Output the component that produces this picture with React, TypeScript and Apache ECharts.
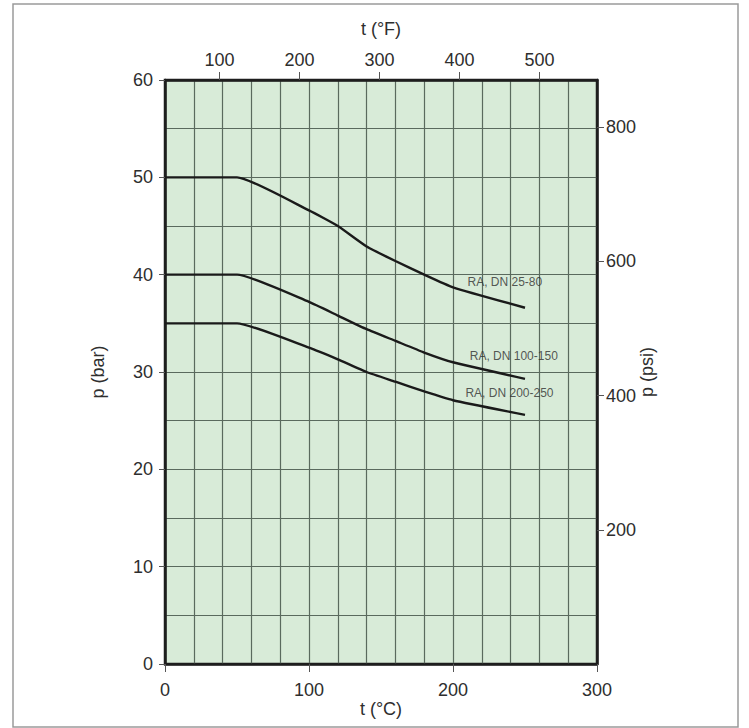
import React, { useEffect, useRef } from "react";
import * as echarts from "echarts";

// Temperature (°C) sample points and pressure (bar) for each rating curve
const tempC = [0, 50, 100, 120, 140, 160, 180, 200, 250];
const dn25_80 = [50, 50, 46.6, 45.0, 42.9, 41.4, 40.0, 38.7, 36.6];
const dn100_150 = [40, 40, 37.2, 35.8, 34.4, 33.2, 32.0, 31.0, 29.3];
const dn200_250 = [35, 35, 32.5, 31.3, 30.0, 29.0, 28.0, 27.1, 25.6];

const seriesNames = ["RA, DN 25-80", "RA, DN 100-150", "RA, DN 200-250"];
const labelTempC = [209.7, 211.3, 208.3];
const labelBar = [39.2, 31.6, 27.8];

// Axis ticks
const cTicks = [0, 100, 200, 300];
const barTicks = [0, 10, 20, 30, 40, 50, 60];
const fTicks = [100, 200, 300, 400, 500];
const psiTicks = [200, 400, 600, 800];
const cGridStep = 20;
const barGridStep = 5;

const C_MIN = 0;
const C_MAX = 300;
const BAR_MIN = 0;
const BAR_MAX = 60;
const PSI_PER_BAR = 14.5038;

const FONT = "Liberation Sans, Arial, sans-serif";
const TEXT = "#2e2e2e";
const AXIS = "#1e1e1e";
const GRIDLINE = "#5a6a5e";

export default function App() {
  const ref = useRef<HTMLDivElement>(null);

  useEffect(() => {
    if (!ref.current) return;
    const chart = echarts.init(ref.current, undefined, { renderer: "svg" });

    const curves = [dn25_80, dn100_150, dn200_250];
    const lineSeries = curves.map((vals, i) => ({
      type: "line",
      name: seriesNames[i],
      xAxisIndex: 0,
      yAxisIndex: 0,
      data: tempC.map((t, j) => [t, vals[j]]),
      showSymbol: false,
      symbol: "none",
      smooth: 0.15,
      lineStyle: { color: "#1a1a1a", width: 2.4 },
      z: 5,
    }));

    const labelSeries = {
      type: "scatter",
      xAxisIndex: 0,
      yAxisIndex: 0,
      symbolSize: 1,
      itemStyle: { color: "rgba(0,0,0,0)" },
      data: seriesNames.map((n, i) => ({ value: [labelTempC[i], labelBar[i]], name: n })),
      label: {
        show: true,
        position: "right",
        distance: 0,
        formatter: (p: any) => p.name,
        fontFamily: FONT,
        fontSize: 12,
        color: TEXT,
      },
      z: 6,
    };

    const fMin = C_MIN * 9 / 5 + 32;
    const fMax = C_MAX * 9 / 5 + 32;

    const nameStyle = { fontFamily: FONT, fontSize: 18, color: TEXT };
    const labelStyle = { fontFamily: FONT, fontSize: 18, color: TEXT };
    const tickLine = { color: "#555", width: 1 };
    const axisLine = { show: true, onZero: false, lineStyle: { color: AXIS, width: 2.5 } };

    const option: any = {
      animation: false,
      textStyle: { fontFamily: FONT },
      graphic: [
        {
          type: "rect",
          shape: { x: 13, y: 4, width: 725, height: 723 },
          style: { fill: "none", stroke: "#9a9a9a", lineWidth: 1.5 },
          silent: true,
          z: -10,
        },
      ],
      grid: {
        left: 165,
        right: 152,
        top: 80,
        bottom: 64,
        show: true,
        backgroundColor: "#d8ebd8",
        borderColor: AXIS,
        borderWidth: 2.5,
      },
      xAxis: [
        {
          type: "value",
          position: "bottom",
          min: C_MIN,
          max: C_MAX,
          name: "t (°C)",
          nameLocation: "middle",
          nameGap: 36,
          nameMoveOverlap: false,
          nameTextStyle: nameStyle,
          axisLine,
          axisTick: { show: true, customValues: cTicks, length: 8, lineStyle: tickLine },
          axisLabel: { customValues: cTicks, ...labelStyle, margin: 17 },
          splitLine: { show: false },
          z: 3,
        },
        {
          type: "value",
          position: "top",
          min: fMin,
          max: fMax,
          name: "t (°F)",
          nameLocation: "middle",
          nameGap: 42,
          nameMoveOverlap: false,
          nameTextStyle: nameStyle,
          axisLine,
          axisTick: { show: true, customValues: fTicks, length: 8, lineStyle: tickLine },
          axisLabel: { customValues: fTicks, ...labelStyle, margin: 11 },
          splitLine: { show: false },
          z: 3,
        },
        {
          // grid helper: vertical lines every 20 °C
          type: "value",
          position: "bottom",
          min: C_MIN,
          max: C_MAX,
          interval: cGridStep,
          axisLine: { show: false, onZero: false },
          axisTick: { show: false },
          axisLabel: { show: false },
          splitLine: { show: true, lineStyle: { color: GRIDLINE, width: 1.2 } },
        },
      ],
      yAxis: [
        {
          type: "value",
          position: "left",
          min: BAR_MIN,
          max: BAR_MAX,
          name: "p (bar)",
          nameLocation: "middle",
          nameGap: 58,
          nameMoveOverlap: false,
          nameTextStyle: nameStyle,
          axisLine,
          axisTick: { show: true, customValues: barTicks, length: 6, lineStyle: tickLine },
          axisLabel: { customValues: barTicks, ...labelStyle, margin: 12 },
          splitLine: { show: false },
          z: 3,
        },
        {
          type: "value",
          position: "right",
          min: BAR_MIN * PSI_PER_BAR,
          max: BAR_MAX * PSI_PER_BAR,
          name: "p (psi)",
          nameLocation: "middle",
          nameGap: 41,
          nameMoveOverlap: false,
          nameTextStyle: nameStyle,
          axisLine,
          axisTick: { show: true, customValues: psiTicks, length: 7, lineStyle: tickLine },
          axisLabel: { customValues: psiTicks, ...labelStyle, margin: 9 },
          splitLine: { show: false },
          z: 3,
        },
        {
          // grid helper: horizontal lines every 5 bar
          type: "value",
          position: "left",
          min: BAR_MIN,
          max: BAR_MAX,
          interval: barGridStep,
          axisLine: { show: false, onZero: false },
          axisTick: { show: false },
          axisLabel: { show: false },
          splitLine: { show: true, lineStyle: { color: GRIDLINE, width: 1.2 } },
        },
      ],
      series: [...lineSeries, labelSeries],
    };

    chart.setOption(option);
    return () => {
      chart.dispose();
    };
  }, []);

  return (
    <div
      ref={ref}
      style={{
        position: "fixed",
        left: 0,
        top: 0,
        width: 749,
        height: 728,
        background: "#ffffff",
      }}
    />
  );
}
